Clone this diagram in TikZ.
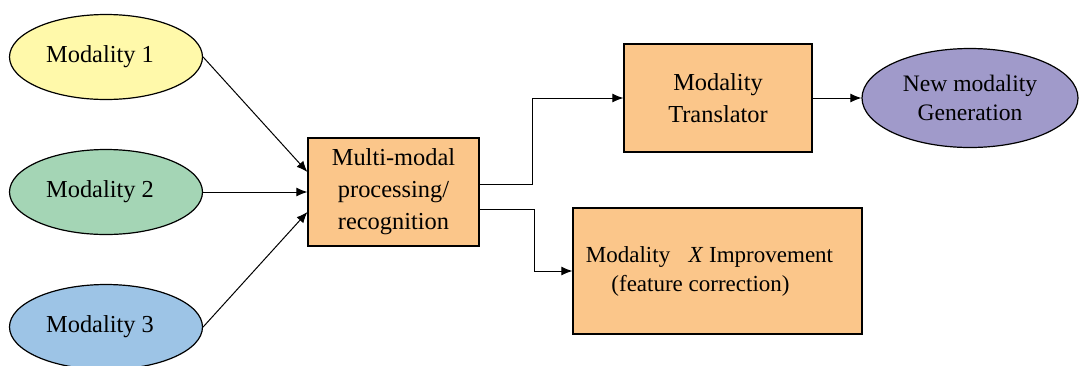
\documentclass[tikz,border=0pt]{standalone}
\usepackage{fontspec}
\setmainfont{Liberation Serif}
\usetikzlibrary{shapes.geometric, arrows.meta}
\definecolor{modyellow}{RGB}{255,249,170}
\definecolor{modgreen}{RGB}{164,213,181}
\definecolor{modblue}{RGB}{157,196,230}
\definecolor{procorange}{RGB}{251,198,138}
\definecolor{genpurple}{RGB}{160,154,202}
\tikzset{
  modality/.style = {ellipse, draw, line width = .6pt, inner sep = 0pt, align = center,
    minimum width = 96.5pt, minimum height = 42.5pt},
  procbox/.style = {rectangle, draw, line width = .6pt, fill = procorange,
    align = center, inner sep = 0pt},
  link/.style = {line width = .5pt, -{Latex[length = 5.5pt, width = 4.5pt]}}
}
\begin{document}
\begin{tikzpicture}[x = .5pt, y = -.5pt, font = \fontsize{12.2}{16}\selectfont]
  \useasboundingbox (0, 0) rectangle (1079, 365);
  % the three input modalities
  \node[modality, fill = modyellow] (mod1) at (106, 57) {Modality 1\hspace{6pt}\mbox{}};
  \node[modality, fill = modgreen] (mod2) at (106, 192) {Modality 2\hspace{6pt}\mbox{}};
  \node[modality, fill = modblue] (mod3) at (106, 327) {Modality 3\hspace{6pt}\mbox{}};
  % processing
  \node[procbox, minimum width = 85.5pt, minimum height = 54pt] (proc) at (393.5, 192)
    {Multi-modal\\processing/\\recognition};
  \node[procbox, minimum width = 94pt, minimum height = 54pt] (trans) at (718, 98)
    {Modality\\Translator};
  \node[procbox, minimum width = 144.5pt, minimum height = 63pt, font = \fontsize{11.5}{14.5}\selectfont]
    (impr) at (717.5, 271)
    {Modality\hspace{.8em}\textit{X} Improvement\hspace{8pt}\mbox{}\\(feature correction)\hspace{17pt}\mbox{}};
  \node[modality, fill = genpurple, minimum width = 108pt, minimum height = 49.5pt,
    font = \fontsize{11.8}{14.5}\selectfont] (newmod) at (970, 98)
    {New modality\\Generation};
  % connectors
  \draw[link] (mod1.east) -- ([yshift = 10pt]proc.west);
  \draw[link] (mod2.east) -- (proc.west);
  \draw[link] (mod3.east) -- ([yshift = -10pt]proc.west);
  \draw[link] ([yshift = 4pt]proc.east) -- ++(53, 0) |- (trans.west);
  \draw[link] ([yshift = -8.5pt]proc.east) -- ++(55, 0) |- (impr.west);
  \draw[link] (trans.east) -- (newmod.west);
\end{tikzpicture}
\end{document}
